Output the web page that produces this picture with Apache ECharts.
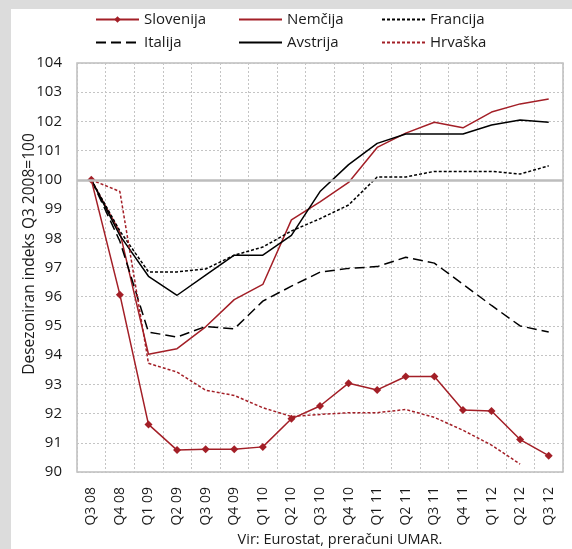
<!DOCTYPE html>
<html>
<head>
<meta charset="utf-8">
<script src="https://cdn.jsdelivr.net/npm/echarts@6/dist/echarts.min.js"></script>
<style>
  html, body { margin: 0; padding: 0; background: #dcdcdc; }
  #panel { position: absolute; left: 11px; top: 9px; width: 561px; height: 540px; background: #fff; }
  #chart { position: absolute; left: 0; top: 0; width: 572px; height: 549px; }
</style>
</head>
<body>
<div id="panel"></div>
<div id="chart"></div>
<script>
  // kvartali
  const categories = ['Q3 08', 'Q4 08', 'Q1 09', 'Q2 09', 'Q3 09', 'Q4 09', 'Q1 10', 'Q2 10', 'Q3 10',
    'Q4 10', 'Q1 11', 'Q2 11', 'Q3 11', 'Q4 11', 'Q1 12', 'Q2 12', 'Q3 12'];

  // indeksi Q3 2008 = 100
  const slovenija = [100, 96.07, 91.63, 90.75, 90.78, 90.78, 90.86, 91.82, 92.26, 93.04, 92.81, 93.27, 93.27, 92.12, 92.09, 91.11, 90.56];
  const nemcija = [100, 98.2, 94.03, 94.22, 94.97, 95.9, 96.42, 98.63, 99.25, 99.91, 101.11, 101.6, 101.97, 101.78, 102.32, 102.6, 102.77];
  const francija = [100, 98.25, 96.85, 96.85, 96.95, 97.42, 97.7, 98.25, 98.67, 99.14, 100.1, 100.1, 100.29, 100.29, 100.29, 100.2, 100.48];
  const italija = [100, 97.9, 94.79, 94.62, 94.98, 94.9, 95.85, 96.36, 96.84, 96.97, 97.03, 97.35, 97.15, 96.43, 95.7, 95.0, 94.79];
  const avstrija = [100, 98.1, 96.7, 96.05, 96.74, 97.42, 97.42, 98.1, 99.6, 100.52, 101.25, 101.57, 101.57, 101.57, 101.88, 102.05, 101.97];
  const hrvaska = [100, 99.6, 93.72, 93.42, 92.8, 92.62, 92.2, 91.9, 91.97, 92.03, 92.03, 92.14, 91.87, 91.43, 90.92, 90.27, null];

  const red = '#a31f27';
  const txt = '#1a1a1a';
  const font = 'Open Sans';

  const legendItems = [
    { name: 'Slovenija', left: 95, top: 12, marker: true },
    { name: 'Nemčija', left: 238, top: 12 },
    { name: 'Francija', left: 381, top: 12 },
    { name: 'Italija', left: 95, top: 35 },
    { name: 'Avstrija', left: 238, top: 35 },
    { name: 'Hrvaška', left: 381, top: 35 }
  ];

  const chart = echarts.init(document.getElementById('chart'));

  const line = (name, data, color, type, extra) => Object.assign({
    name: name,
    type: 'line',
    data: data,
    symbol: 'none',
    z: 3,
    lineStyle: { color: color, width: 1.5, type: type },
    itemStyle: { color: color }
  }, extra || {});

  const option = {
    animation: false,
    backgroundColor: 'transparent',
    textStyle: { fontFamily: font, color: txt },
    legend: legendItems.map(l => ({
      data: [l.name],
      left: l.left,
      top: l.top,
      itemWidth: 43,
      itemHeight: 8,
      itemGap: 0,
      padding: 0,
      itemStyle: l.marker ? {} : { opacity: 0 },
      textStyle: { fontFamily: font, fontSize: 15, color: txt }
    })),
    grid: {
      left: 77, right: 9, top: 63, bottom: 77,
      show: true, borderColor: '#bdbdbd', borderWidth: 1.5
    },
    xAxis: {
      type: 'category',
      data: categories,
      boundaryGap: true,
      axisLine: { show: false },
      axisTick: { show: false },
      axisLabel: { rotate: 90, fontSize: 14, color: txt, margin: 15, interval: 0, fontFamily: font },
      splitLine: { show: true, interval: 0, lineStyle: { color: '#c4c4c4', type: [2, 2], width: 1 } }
    },
    yAxis: {
      type: 'value',
      min: 90, max: 104, interval: 1,
      axisLine: { show: false },
      axisTick: { show: false },
      axisLabel: { fontSize: 15, color: txt, margin: 15, fontFamily: font },
      splitLine: { lineStyle: { color: '#c4c4c4', type: [2, 2], width: 1 } }
    },
    graphic: [
      {
        type: 'text', x: 30, y: 254, rotation: Math.PI / 2,
        style: { text: 'Desezoniran indeks Q3 2008=100', fontFamily: font, fontSize: 15.5, fill: txt, align: 'center', verticalAlign: 'middle' }
      },
      {
        type: 'text', x: 340, y: 540,
        style: { text: 'Vir: Eurostat, preračuni UMAR.', fontFamily: font, fontSize: 14.5, fill: txt, align: 'center', verticalAlign: 'middle' }
      }
    ],
    series: [
      {
        type: 'line', data: [], z: 1, silent: true,
        markLine: {
          silent: true, symbol: 'none', label: { show: false },
          lineStyle: { color: '#bdbdbd', width: 2.5, type: 'solid' },
          data: [{ yAxis: 100 }]
        }
      },
      line('Slovenija', slovenija, red, 'solid', { symbol: 'diamond', symbolSize: 8, showAllSymbol: true, z: 4 }),
      line('Nemčija', nemcija, red, 'solid'),
      line('Francija', francija, '#000', [3, 2]),
      line('Italija', italija, '#000', [10, 5]),
      line('Avstrija', avstrija, '#000', 'solid'),
      line('Hrvaška', hrvaska, red, [3, 2])
    ]
  };

  chart.setOption(option);
</script>
</body>
</html>
